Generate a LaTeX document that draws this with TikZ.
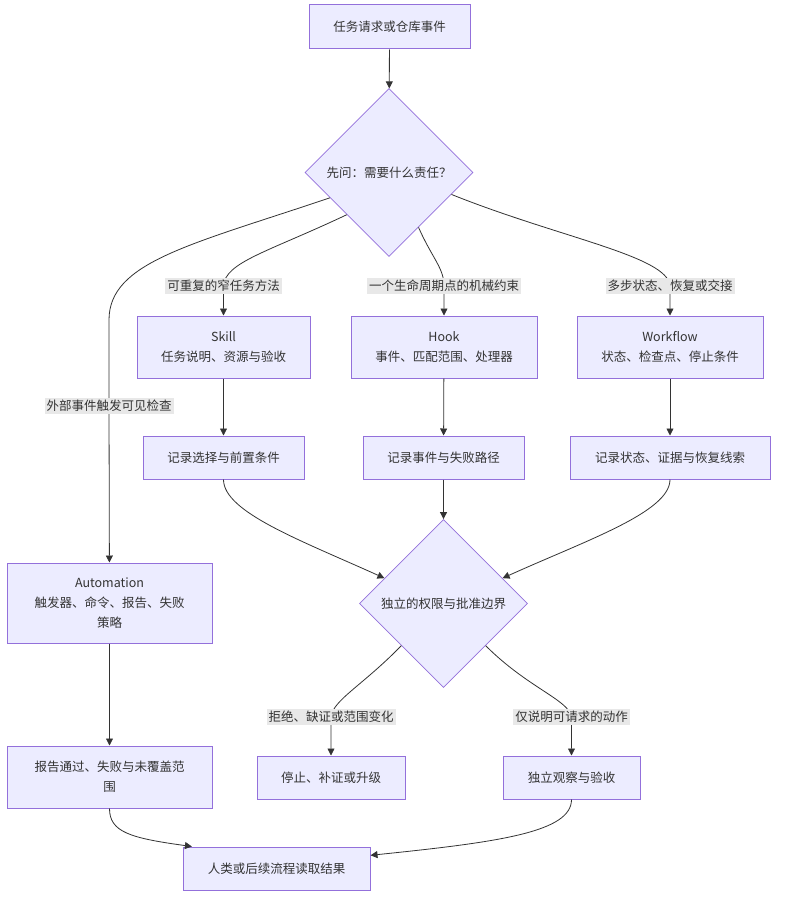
\documentclass[tikz,border=0pt]{standalone}
\usepackage{fontspec}
\setmainfont{Noto Sans CJK SC}
\usetikzlibrary{shapes.geometric,arrows.meta,calc}
\definecolor{boxfill}{HTML}{ECECFF}
\definecolor{boxline}{HTML}{9370DB}
\definecolor{edgeline}{HTML}{333333}
\definecolor{lblfill}{HTML}{E8E8E8}
\tikzset{
  box/.style={draw=boxline,fill=boxfill,line width=1pt,text=edgeline,align=center,inner sep=0pt},
  choice/.style={diamond,aspect=1,draw=boxline,fill=boxfill,line width=0.8pt,text=edgeline,inner sep=0pt,minimum width=168pt,minimum height=168pt},
  lbl/.style={fill=lblfill,text=edgeline,inner sep=2pt},
  arr/.style={draw=edgeline,line width=0.8pt,-{Triangle[length=7pt,width=7pt]}}
}
\begin{document}
\begin{tikzpicture}[x=1pt,y=-1pt,font=\fontsize{12.5}{20}\selectfont]
	\useasboundingbox (0,0) rectangle (784,907);
	\node[box,minimum width=161pt,minimum height=44pt] (req) at (389.5,27) {任务请求或仓库事件};
	\node[choice] (ask) at (389,172.5) {先问：需要什么责任？};
	\node[box,minimum width=173pt,minimum height=62pt] (skill) at (223.5,347) {Skill\\任务说明、资源与验收};
	\node[box,minimum width=186pt,minimum height=62pt] (hook) at (444,347) {Hook\\事件、匹配范围、处理器};
	\node[box,minimum width=186pt,minimum height=62pt] (wf) at (670,347) {Workflow\\状态、检查点、停止条件};
	\node[box,minimum width=161pt,minimum height=43pt] (recskill) at (223.5,457.5) {记录选择与前置条件};
	\node[box,minimum width=161pt,minimum height=43pt] (rechook) at (443.5,457.5) {记录事件与失败路径};
	\node[box,minimum width=200pt,minimum height=43pt] (recwf) at (670,457.5) {记录状态、证据与恢复线索};
	\node[box,minimum width=205pt,minimum height=80pt] (auto) at (109.5,603) {Automation\\触发器、命令、报告、失败\\策略};
	\node[choice] (bound) at (443.5,603.5) {独立的权限与批准边界};
	\node[box,minimum width=205pt,minimum height=62pt] (report) at (109.5,777) {报告通过、失败与未覆盖范\\围};
	\node[box,minimum width=148pt,minimum height=43pt] (stop) at (331,777.5) {停止、补证或升级};
	\node[box,minimum width=137pt,minimum height=43pt] (obs) at (571.5,777.5) {独立观察与验收};
	\node[box,minimum width=187pt,minimum height=43pt] (final) at (276.5,868.5) {人类或后续流程读取结果};

	\draw[arr] (req) -- (ask);
	\draw[arr] ($(ask.west)!0.3!(ask.south)$) .. controls (190,245) and (109,262) .. (109,320) -- (109,406) node[lbl] {外部事件触发可见检查} -- (auto);
	\draw[arr] (ask.south west) .. controls (268,252) and (225,262) .. (223.5,286) node[lbl] {可重复的窄任务方法} -- (skill);
	\draw[arr] ($(ask.south)!0.35!(ask.east)$) .. controls (432,258) and (444,268) .. (444,286) node[lbl] {一个生命周期点的机械约束} -- (hook);
	\draw[arr] ($(ask.south)!0.74!(ask.east)$) .. controls (560,238) and (668,256) .. (670,286) node[lbl] {多步状态、恢复或交接} -- (wf);
	\draw[arr] (skill) -- (recskill);
	\draw[arr] (hook) -- (rechook);
	\draw[arr] (wf) -- (recwf);
	\draw[arr] (recskill.south) .. controls (223.5,512) and (300,540) .. ($(bound.west)!0.3!(bound.north)$);
	\draw[arr] (rechook) -- (bound);
	\draw[arr] (recwf.south) .. controls (670,512) and (587,540) .. ($(bound.east)!0.3!(bound.north)$);
	\draw[arr] (auto) -- (report);
	\draw[arr] (bound.south west) .. controls (362,686) and (333,700) .. (331,717) node[lbl] {拒绝、缺证或范围变化} -- (stop);
	\draw[arr] (bound.south east) .. controls (528,688) and (569,700) .. (571.5,717) node[lbl] {仅说明可请求的动作} -- (obs);
	\draw[arr] (report.south) .. controls (109.5,832) and (130,838) .. ($(final.north west)!0.05!(final.north east)$);
	\draw[arr] (obs.south) .. controls (571.5,832) and (500,842) .. ($(final.north east)!0.2!(final.south east)$);
\end{tikzpicture}
\end{document}
